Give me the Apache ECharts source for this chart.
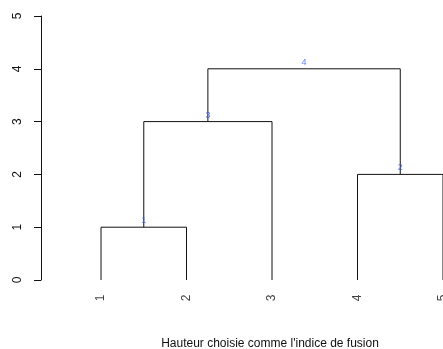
<!DOCTYPE html>
<html><head><meta charset="utf-8">
<script src="https://cdn.jsdelivr.net/npm/echarts@6/dist/echarts.min.js"></script>
<style>html,body{margin:0;padding:0;background:#fff}#c{width:443px;height:349px}</style>
</head><body><div id="c"></div>
<script>
// Leaves in display order
const leaves = ['1','2','3','4','5'];
// Merges: [left, right, height]; positive = leaf index (1-based), negative = merge index (R hclust convention)
const mergeLeft   = [1, 4, -1, -3];
const mergeRight  = [2, 5, 3, -2];
const mergeHeight = [1, 2, 3, 4];
const mergeLabels = ['1','2','3','4'];
const yTicks = [0,1,2,3,4,5];
const xTitle = "Hauteur choisie comme l'indice de fusion";

const nodeX = [], nodeH = [];
function pos(ref){ return ref > 0 ? [ref, 0] : [nodeX[-ref-1], nodeH[-ref-1]]; }
const segs = [];
for (let i = 0; i < mergeHeight.length; i++) {
  const l = pos(mergeLeft[i]), r = pos(mergeRight[i]), h = mergeHeight[i];
  nodeX.push((l[0] + r[0]) / 2); nodeH.push(h);
  segs.push([[l[0], l[1]], [l[0], h], [r[0], h], [r[0], r[1]]]);
}
const lineSeries = segs.map(s => ({
  type: 'line', data: s, symbol: 'none', silent: true,
  lineStyle: { color: '#111', width: 1 }, animation: false
}));
const chart = echarts.init(document.getElementById('c'), null, {renderer:'canvas'});
chart.setOption({
  animation: false,
  grid: { left: 41, right: 0, top: 16, bottom: 69, containLabel: false },
  xAxis: { type: 'value', min: 0.298, max: 5, show: false },
  yAxis: {
    type: 'value', min: yTicks[0], max: yTicks[yTicks.length-1], interval: 1,
    axisLine: { show: true, lineStyle: { color: '#111', width: 1 } },
    axisTick: { show: true, length: 7, lineStyle: { color: '#111' } },
    splitLine: { show: false },
    axisLabel: { rotate: 90, margin: 17, color: '#111', fontSize: 12, fontFamily: 'Liberation Sans' }
  },
  series: lineSeries.concat([
    {
      type: 'scatter', symbolSize: 0, silent: true,
      data: leaves.map((n, i) => ({ value: [i + 1, 0], name: n })),
      label: { show: true, position: 'bottom', distance: 18, rotate: 90, formatter: p => p.name,
               color: '#111', fontSize: 12, fontFamily: 'Liberation Sans', align: 'center', verticalAlign: 'middle' }
    },
    {
      type: 'scatter', symbolSize: 0, silent: true, z: 5,
      data: mergeLabels.map((n, i) => ({ value: [nodeX[i], nodeH[i]], name: n })),
      label: { show: true, position: 'top', distance: 2, formatter: p => p.name,
               color: '#3b5ee8', fontSize: 9, fontFamily: 'Liberation Sans' }
    }
  ]),
  graphic: [{
    type: 'text', x: 270, y: 344,
    style: { text: xTitle, fill: '#111', font: '12px "Liberation Sans"', textAlign: 'center', textVerticalAlign: 'middle' }
  }]
});
</script></body></html>
